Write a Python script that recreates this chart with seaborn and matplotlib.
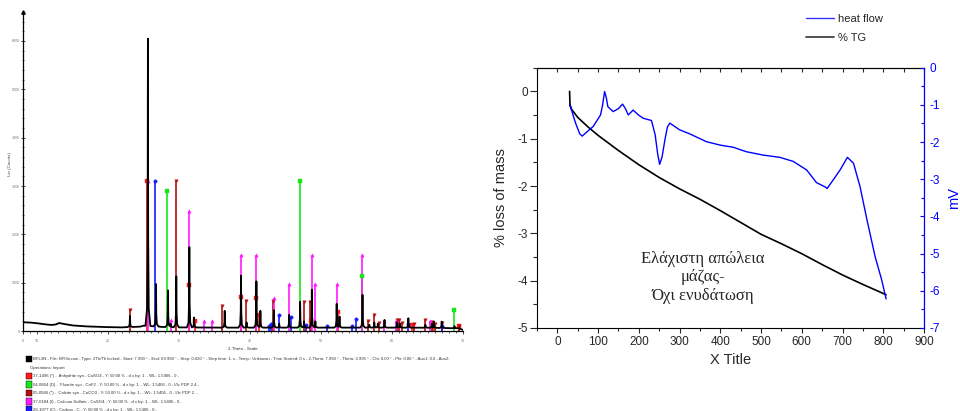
import numpy as np
import matplotlib
matplotlib.use("Agg")
import matplotlib.pyplot as plt
from matplotlib.patches import Rectangle
from matplotlib.lines import Line2D
from matplotlib.ticker import MultipleLocator
import seaborn as sns

# ---------------- XRD pattern (left panel) ----------------
bg_theta = [8.0, 9.0, 10.0, 11.0, 12.0, 12.6, 13.1, 13.6, 15.0, 17.0, 20.0, 22.0,
            24.5, 25.0, 27.5, 30.0, 35.0, 40.0, 45.0, 50.0, 55.0, 60.0, 65.0, 69.5, 70.0]
bg_counts = [180, 175, 160, 140, 125, 135, 165, 150, 115, 95, 80, 75,
             90, 110, 85, 75, 70, 70, 70, 70, 70, 70, 68, 55, 20]

peak_theta = [23.07, 25.6, 26.74, 28.43, 28.8, 29.6, 31.44, 32.1, 36.42, 38.72, 39.5,
              40.89, 41.45, 43.35, 44.1, 45.5, 47.05, 47.6, 48.7, 49.2, 52.2, 52.6,
              55.84, 56.8, 57.5, 58.0, 58.94, 60.7, 61.1, 62.3, 64.7, 65.6, 65.9,
              67.0, 68.8]
peak_counts = [312, 6048, 972, 840, 150, 1132, 1736, 278, 417, 1146, 180,
               1028, 417, 430, 150, 333, 604, 200, 854, 200, 562, 300,
               750, 130, 174, 150, 229, 180, 160, 264, 130, 150, 194,
               194, 100]

# reference patterns (stick positions / heights)
anh_theta = [25.45, 31.38, 32.2, 38.65, 40.82, 41.3, 48.6, 52.4, 62.8, 65.8, 69.4]
anh_counts = [3100, 950, 200, 700, 680, 330, 200, 400, 130, 150, 100]
flu_theta = [28.3, 47.0, 55.8, 68.7]
flu_counts = [2900, 3100, 1130, 440]
cal_theta = [23.05, 29.6, 36.0, 39.45, 43.2, 47.55, 48.5, 56.6, 57.45, 58.1,
             60.7, 61.0, 61.4, 63.1, 64.7, 65.6, 66.0, 67.0, 69.4]
cal_counts = [430, 3100, 510, 625, 625, 590, 600, 210, 330, 160,
              230, 220, 170, 140, 230, 180, 140, 160, 110]
cas_theta = [25.6, 28.8, 31.44, 33.5, 34.6, 38.7, 40.85, 43.4, 45.45, 48.7,
             49.15, 52.25, 55.8, 58.9, 60.6, 65.4]
cas_counts = [3100, 230, 2480, 200, 200, 1570, 1570, 680, 970, 1570,
              970, 970, 1570, 215, 200, 210]
car_theta = [26.6, 42.6, 42.9, 44.1, 45.7, 47.85, 50.9, 54.3, 54.9, 62.3, 67.0]
car_counts = [3100, 100, 150, 330, 290, 130, 100, 100, 250, 150, 100]

xrd_xticks = [8, 10, 20, 30, 40, 50, 60, 70]
xrd_yticks = [0, 1000, 2000, 3000, 4000, 5000, 6000]

# ---------------- Thermal analysis (right panel) ----------------
tg_temp = [30, 31, 35, 50, 75, 100, 150, 200, 250, 300, 350, 400, 450, 500,
           550, 600, 650, 700, 750, 800, 807]
tg_mass = [0.0, -0.28, -0.38, -0.55, -0.75, -0.93, -1.25, -1.55, -1.82, -2.06,
           -2.28, -2.52, -2.77, -3.02, -3.22, -3.43, -3.66, -3.88, -4.08, -4.27, -4.3]

hf_temp = [30, 35, 45, 55, 61, 70, 88, 106, 111, 116, 120, 124, 137, 150, 160, 167,
           174, 186, 200, 211, 231, 240, 246, 251, 257, 264, 270, 276, 300, 325,
           366, 399, 432, 464, 505, 546, 579, 612, 636, 658, 662, 677, 694, 712,
           727, 743, 760, 780, 796, 807]
hf_mv = [-1.0, -1.15, -1.5, -1.78, -1.84, -1.75, -1.58, -1.27, -1.0, -0.64, -0.8,
         -1.05, -1.18, -1.1, -0.98, -1.1, -1.27, -1.14, -1.28, -1.36, -1.42, -1.8,
         -2.3, -2.6, -2.4, -1.94, -1.6, -1.49, -1.67, -1.78, -1.99, -2.08, -2.14,
         -2.26, -2.35, -2.41, -2.52, -2.75, -3.09, -3.21, -3.25, -3.02, -2.75,
         -2.41, -2.57, -3.2, -4.09, -5.08, -5.7, -6.22]

# ---------------- style ----------------
sns.set_style("ticks")
plt.rcParams["font.family"] = ["Liberation Sans", "DejaVu Sans"]
plt.rcParams["axes.unicode_minus"] = False

W, H = 960, 411
fig = plt.figure(figsize=(9.6, 4.11), dpi=100)


def fx(px):
    return px / W


def fy(py):
    return 1 - py / H


# ================= LEFT PANEL =================
ax1 = fig.add_axes([fx(23), fy(331), (463 - 23) / W, (331 - 12) / H])

# profile built from read background points + peak apexes
shape_dx = np.array([-0.35, -0.12, -0.04, 0.0, 0.04, 0.12, 0.35])
shape_fr = np.array([0.0, 0.06, 0.3, 1.0, 0.3, 0.06, 0.0])
grid = set(bg_theta)
for p in peak_theta:
    grid.update((p + shape_dx).tolist())
grid = np.array(sorted(g for g in grid if 8.0 <= g <= 70.0))
prof = np.interp(grid, bg_theta, bg_counts)
for p, h in zip(peak_theta, peak_counts):
    b = np.interp(p, bg_theta, bg_counts)
    y = np.interp(grid, p + shape_dx, b + shape_fr * (h - b), left=0, right=0)
    prof = np.maximum(prof, y)

phases = [
    (anh_theta, anh_counts, "#ff1a1a", "s"),
    (flu_theta, flu_counts, "#19e619", "s"),
    (cal_theta, cal_counts, "#b31010", "v"),
    (cas_theta, cas_counts, "#ff1aff", "^"),
    (car_theta, car_counts, "#1a1aff", "o"),
]
for th, ct, col, mk in phases:
    ax1.vlines(th, 0, ct, color=col, lw=1.2, zorder=2)
    sns.scatterplot(x=th, y=ct, ax=ax1, color=col, marker=mk, s=6,
                    edgecolor=col, linewidth=0.3, zorder=2.5, legend=False)

sns.lineplot(x=grid, y=prof, ax=ax1, color="black", lw=1.3, sort=False,
             estimator=None, zorder=3)

ax1.set_xlim(8, 70)
ax1.set_ylim(0, 6600)
ax1.set_xticks(xrd_xticks)
ax1.set_xticklabels([str(t) for t in xrd_xticks])
ax1.set_yticks(xrd_yticks)
ax1.set_yticklabels([str(t) for t in xrd_yticks])
ax1.xaxis.set_minor_locator(MultipleLocator(1))
ax1.yaxis.set_minor_locator(MultipleLocator(200))
ax1.tick_params(axis="x", which="major", direction="out", length=2.5, width=0.6,
                labelsize=2.6, labelcolor="#777777", pad=3)
ax1.tick_params(axis="x", which="minor", direction="out", length=1.5, width=0.5)
ax1.tick_params(axis="y", which="major", direction="inout", length=3, width=0.6,
                labelsize=2.6, labelcolor="#777777", pad=1)
ax1.tick_params(axis="y", which="minor", direction="inout", length=2, width=0.5)
for s in ("top", "right"):
    ax1.spines[s].set_visible(False)
for s in ("left", "bottom"):
    ax1.spines[s].set_linewidth(0.9)
    ax1.spines[s].set_color("black")
ax1.plot([8], [6600], marker="^", ms=2.5, color="black", clip_on=False)
ax1.set_xlabel("2-Theta - Scale", fontsize=3.2, color="#333333")
ax1.xaxis.set_label_coords(0.5, (331 - 347) / 319)
ax1.set_ylabel("Lin (Counts)", fontsize=3.2, color="#444444")
ax1.yaxis.set_label_coords((12 - 23) / 440, (331 - 164) / 319)

# pattern legend lines under the left panel
legend_rows = [
    (359, "black", "BFL3N - File: BFl3n.raw - Type: 2Th/Th locked - Start: 7.990 \u00b0 - End: 69.990 \u00b0 - Step: 0.020 \u00b0 - Step time: 1. s - Temp.: Unknown - Time Started: 0 s - 2-Theta: 7.990 \u00b0 - Theta: 3.995 \u00b0 - Chi: 0.00 \u00b0 - Phi: 0.00 \u00b0 - Aux1: 0.0 - Aux2:"),
    (368, None, "Operations: Import"),
    (376, "#ff1a1a", "37-1496 (*) -  Anhydrite syn - CaSO4 - Y: 50.00 % - d x by: 1. - WL: 1.5406 - 0 -"),
    (384.5, "#19e619", "04-0864 (D) -  Fluorite syn - CaF2 - Y: 50.00 % - d x by: 1. - WL: 1.5406 - 0 - I/Ic PDF 2.4 -"),
    (393, "#b31010", "05-0586 (*) -  Calcite syn - CaCO3 - Y: 50.00 % - d x by: 1. - WL: 1.5406 - 0 - I/Ic PDF 2. -"),
    (401.5, "#ff1aff", "37-0184 (I) - Calcium Sulfate - CaSO4 - Y: 50.00 % - d x by: 1. - WL: 1.5406 - 0 -"),
    (409.5, "#1a1aff", "26-1077 (C) - Carbon - C - Y: 50.00 % - d x by: 1. - WL: 1.5406 - 0 -"),
]
for ypx, col, txt in legend_rows:
    if col is None:
        fig.text(fx(30), fy(ypx), txt, fontsize=3.05, color="#333333", va="center", ha="left")
    else:
        fig.patches.append(Rectangle((fx(26), fy(ypx + 3.3)), 6 / W, 6.6 / H,
                                     transform=fig.transFigure, facecolor=col,
                                     edgecolor="black", lw=0.3))
        fig.text(fx(33), fy(ypx), txt, fontsize=3.05, color="#333333", va="center", ha="left")

# ================= RIGHT PANEL =================
ax2 = fig.add_axes([fx(537), fy(328), (924 - 537) / W, (328 - 67.7) / H])
axr = ax2.twinx()

sns.lineplot(x=tg_temp, y=tg_mass, ax=ax2, color="black", lw=1.2, sort=False,
             estimator=None)
sns.lineplot(x=hf_temp, y=hf_mv, ax=axr, color="#0000ff", lw=1.0, sort=False,
             estimator=None)

ax2.set_xlim(-50, 900)
ax2.set_ylim(-5, 0.5)
axr.set_ylim(-7, 0)

ax2.set_xticks(range(0, 901, 100))
ax2.xaxis.set_minor_locator(MultipleLocator(50))
ax2.set_yticks([-5, -4, -3, -2, -1, 0])
ax2.yaxis.set_minor_locator(MultipleLocator(0.5))
ax2.tick_params(axis="x", which="major", direction="out", length=3.5, width=0.8,
                labelsize=8.5, pad=2, top=False)
ax2.tick_params(axis="x", which="minor", direction="out", length=2, width=0.8, top=False)
ax2.tick_params(axis="y", which="major", direction="out", length=5, width=0.8,
                labelsize=8.5, pad=1.5, right=False)
ax2.tick_params(axis="y", which="minor", direction="out", length=3, width=0.8, right=False)

axr.set_yticks([-7, -6, -5, -4, -3, -2, -1, 0])
axr.yaxis.set_minor_locator(MultipleLocator(0.5))
axr.tick_params(axis="y", which="major", direction="in", length=3, width=0.8,
                colors="#0000ff", labelsize=8.5, pad=4)
axr.tick_params(axis="y", which="minor", direction="in", length=2, width=0.8,
                colors="#0000ff")

sec = ax2.secondary_xaxis("top")
sec.xaxis.set_major_locator(MultipleLocator(50))
sec.tick_params(axis="x", direction="in", length=3, width=0.8, labeltop=False)

for s in ("left", "bottom", "top"):
    ax2.spines[s].set_color("black")
    ax2.spines[s].set_linewidth(0.8)
ax2.spines["right"].set_visible(False)
for s in ("left", "bottom", "top"):
    axr.spines[s].set_visible(False)
axr.spines["right"].set_color("#0000ff")
axr.spines["right"].set_linewidth(0.9)
sec.spines["top"].set_linewidth(0.8)

ax2.set_xlabel("X Title", fontsize=10.5, labelpad=4)
ax2.set_ylabel("% loss of mass", fontsize=10.5, labelpad=7)
axr.set_ylabel("mV", fontsize=10.5, color="#0000ff", rotation=90, labelpad=5)

ax2.text(357, -3.93, "Ελάχιστη απώλεια\nμάζας-\nΌχι ενυδάτωση",
         family=["Liberation Serif", "DejaVu Serif"], fontsize=12,
         ha="center", va="center", multialignment="center")

fig.legend(handles=[Line2D([], [], color="#3333ff", lw=1.0),
                    Line2D([], [], color="#333333", lw=1.2)],
           labels=["heat flow", "% TG"], loc="upper left",
           bbox_to_anchor=(fx(806), fy(14)), frameon=False, fontsize=8,
           handlelength=2.5, handletextpad=0.4, labelspacing=0.8,
           borderpad=0, borderaxespad=0)

fig.savefig("out.png", dpi=100)
